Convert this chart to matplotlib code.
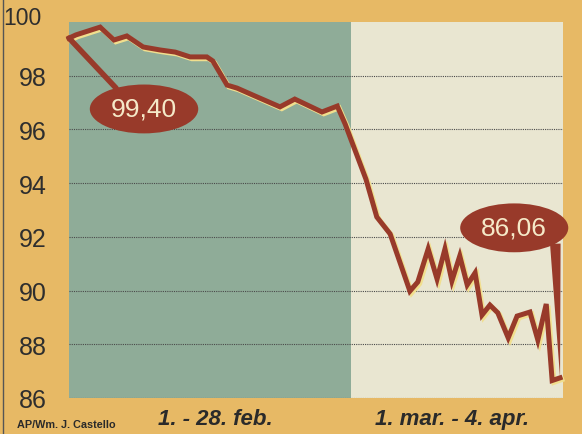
import matplotlib
matplotlib.use("Agg")
import matplotlib.pyplot as plt
import matplotlib.patheffects as pe
from matplotlib.lines import Line2D
from matplotlib.transforms import ScaledTranslation

# position along the period (0 = 1. feb, 100 = 4. apr)
pos = [0, 1.4, 6.3, 9.1, 11.7, 15.0, 18.4, 21.5, 24.5, 27.9, 29.1, 32.0,
       34.0, 37.2, 42.7, 45.7, 51.2, 54.3, 55.9, 60.1, 62.3, 65.0, 69.0,
       70.6, 72.7, 74.5, 76.1, 77.5, 79.1, 80.6, 82.2, 83.6, 85.2, 86.8,
       88.9, 90.7, 93.3, 94.9, 96.6, 97.8, 99.4]
vals = [99.40, 99.52, 99.81, 99.33, 99.48, 99.07, 98.96, 98.88, 98.70,
        98.70, 98.55, 97.65, 97.54, 97.28, 96.84, 97.13, 96.65, 96.87,
        96.20, 94.15, 92.74, 92.11, 89.98, 90.32, 91.55, 90.43, 91.55,
        90.36, 91.29, 90.21, 90.66, 89.09, 89.46, 89.17, 88.24, 89.05,
        89.20, 88.16, 89.50, 86.65, 86.75]

feb_end = 57.1  # where february stops
yticks = [86, 88, 90, 92, 94, 96, 98, 100]
period_labels = ["1. - 28. feb.", "1. mar. - 4. apr."]
first_label = "99,40"
last_label = "86,06"

orange = "#e7b965"
green = "#8fac98"
cream = "#e9e6d1"
red = "#983a2a"
txt_light = "#f5e9c8"

fig = plt.figure(figsize=(5.82, 4.35), dpi=100, facecolor=orange)
ax = fig.add_axes([0.1186, 0.0828, 0.8488, 0.8643])
ax.set_facecolor(cream)
ax.axvspan(0, feb_end, color=green, lw=0, zorder=0)
ax.set_xlim(0, 100)
ax.set_ylim(86, 100)

for v in yticks[:-1]:
    ax.axhline(v, color="#4a4a4a", lw=0.8, ls=(0, (1, 1)), zorder=1)

ax.plot(pos, vals, color=red, lw=3.6, solid_joinstyle="miter", zorder=4,
        clip_on=False,
        path_effects=[pe.Stroke(offset=(1.3, -1.3), linewidth=3.6,
                                foreground="#f1df8e"), pe.Normal()])

ax.annotate(first_label, xy=(pos[0], vals[0]), xytext=(54, -51),
            textcoords="offset points", ha="center", va="center",
            fontsize=19, color=txt_light, family="Liberation Sans", zorder=5,
            bbox=dict(boxstyle="ellipse,pad=0.2", fc=red, ec="none"),
            arrowprops=dict(arrowstyle="-", color=red, lw=4.0,
                            relpos=(0.22, 0.95), shrinkA=0, shrinkB=0))

ax.annotate(last_label, xy=(pos[-1], vals[-1]), xytext=(-33, 108),
            textcoords="offset points", ha="center", va="center",
            fontsize=19, color=txt_light, family="Liberation Sans", zorder=5,
            bbox=dict(boxstyle="ellipse,pad=0.2", fc=red, ec="none"),
            arrowprops=dict(arrowstyle="wedge,tail_width=0.4", fc=red,
                            ec="none", relpos=(1.12, 0.1), shrinkA=0,
                            shrinkB=0))

ax.set_yticks(yticks)
ax.set_yticklabels([str(t) for t in yticks], fontsize=18,
                   family="Liberation Sans", color="#2e2e2e")
ax.tick_params(axis="y", length=0, pad=16)
top_lab = ax.get_yticklabels()[-1]
top_lab.set_fontsize(16.5)
top_lab.set_transform(top_lab.get_transform() +
                      ScaledTranslation(-4 / 72, 5 / 72, fig.dpi_scale_trans))
ax.set_xticks([])
for s in ax.spines.values():
    s.set_visible(False)

label_x = [feb_end / 2 + 1, (feb_end + 100) / 2 - 1]
for x, lab in zip(label_x, period_labels):
    ax.text(x, -0.055, lab, transform=ax.get_xaxis_transform(),
            ha="center", va="center", fontsize=16, fontweight="bold",
            fontstyle="italic", color="#2a2a2a", family="Liberation Sans")

fig.text(0.03, 0.022, "AP/Wm. J. Castello", fontsize=7.8, fontweight="bold",
         color="#2a2a2a", family="Liberation Sans", va="center")
fig.add_artist(Line2D([0.006, 0.006], [0, 1], color="#555555", lw=1))

fig.savefig("out.png", dpi=100, facecolor=orange)
